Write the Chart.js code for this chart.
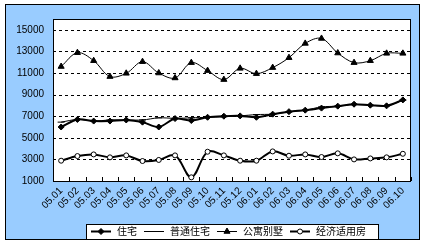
<!DOCTYPE html>
<html><head><meta charset="utf-8">
<script src="https://cdn.jsdelivr.net/npm/chart.js@4/dist/chart.umd.min.js"></script>
<style>html,body{margin:0;padding:0;background:#fff;}#wrap{width:425px;height:247px;position:relative;}</style>
</head><body><div id="wrap"><canvas id="c" width="425" height="247"></canvas></div>
<script>
const categories = ['05.01','05.02','05.03','05.04','05.05','05.06','05.07','05.08','05.09','05.10','05.11','05.12','06.01','06.02','06.03','06.04','06.05','06.06','06.07','06.08','06.09','06.10'];
const seriesNames = ['住宅','普通住宅','公寓别墅','经济适用房'];
const zhuzhai = [6000,6700,6550,6550,6650,6450,6000,6780,6600,6900,7000,7030,6900,7190,7420,7560,7750,7930,8110,8020,7960,8510];
const putongZhuzhai = [6450,6700,6550,6650,6650,6650,6850,6800,6850,6900,6950,7030,7150,7190,7400,7560,7860,7930,8080,8020,7950,8480];
const gongyuBieshu = [11600,12880,12140,10670,10970,12050,11000,10540,11960,11220,10390,11430,10940,11500,12420,13740,14200,12850,11960,12140,12820,12820];
const jingjiShiyong = [2880,3310,3460,3190,3370,2850,2950,3370,1340,3710,3370,2880,2880,3740,3340,3460,3220,3560,3000,3090,3190,3520];
const yTickValues = [1000,3000,5000,7000,9000,11000,13000,15000];
const yMin = 1000, yMax = 16000;

const cjkFont = '10px "Noto Sans CJK SC", sans-serif';

const frame = {
  id:'frame',
  beforeDraw(chart){
    const ctx = chart.ctx, a = chart.chartArea;
    ctx.save();
    ctx.fillStyle = '#fff'; ctx.fillRect(0,0,chart.width,chart.height);
    ctx.fillStyle = '#99CCFF'; ctx.fillRect(5,4,415,236);
    ctx.strokeStyle = '#000'; ctx.lineWidth = 1; ctx.strokeRect(5.5,4.5,414,235);
    ctx.fillStyle = '#fff'; ctx.fillRect(a.left,a.top,a.right-a.left,a.bottom-a.top);
    ctx.restore();
  },
  beforeDatasetsDraw(chart){
    const ctx = chart.ctx, a = chart.chartArea, ys = chart.scales.y;
    ctx.save();
    ctx.strokeStyle = '#000'; ctx.lineWidth = 1; ctx.setLineDash([3,3]);
    ctx.beginPath();
    yTickValues.forEach(v => {
      if (v <= yMin) return;
      const y = Math.round(ys.getPixelForValue(v)) + 0.5;
      ctx.moveTo(a.left, y); ctx.lineTo(a.right, y);
    });
    ctx.stroke();
    ctx.restore();
  },
  afterDatasetsDraw(chart){
    const ctx = chart.ctx, a = chart.chartArea, xs = chart.scales.x;
    ctx.save();
    ctx.strokeStyle = '#000'; ctx.lineWidth = 1;
    ctx.strokeRect(Math.round(a.left)+0.5, Math.round(a.top)+0.5, Math.round(a.right-a.left)-1, Math.round(a.bottom-a.top));
    const step = xs.getPixelForValue(1) - xs.getPixelForValue(0);
    ctx.beginPath();
    for (let i = 0; i <= categories.length; i++) {
      const x = Math.round(xs.getPixelForValue(i) - step/2) + 0.5;
      ctx.moveTo(x, a.bottom); ctx.lineTo(x, a.bottom - 4);
    }
    ctx.stroke();
    // legend
    const ly = 231;
    ctx.fillStyle = '#fff'; ctx.fillRect(86,224,292,15);
    ctx.strokeRect(86.5,224.5,292,15);
    let x = 91;
    ctx.font = cjkFont; ctx.textBaseline = 'middle'; ctx.textAlign = 'left';
    chart.data.datasets.forEach(ds => {
      ctx.strokeStyle = '#000'; ctx.lineWidth = ds.borderWidth;
      ctx.beginPath(); ctx.moveTo(x, ly+0.5); ctx.lineTo(x+20, ly+0.5); ctx.stroke();
      ctx.save();
      ctx.fillStyle = ds.pointBackgroundColor; ctx.strokeStyle = ds.pointBorderColor; ctx.lineWidth = 1;
      Chart.helpers.drawPoint(ctx, {pointStyle: ds.pointStyle, radius: ds.pointRadius, rotation: 0, borderWidth: 1}, x+10, ly+0.5);
      ctx.restore();
      ctx.fillStyle = '#000';
      ctx.fillText(ds.label, x+26, ly);
      x += 26 + ctx.measureText(ds.label).width + 7;
    });
    ctx.restore();
  }
};

const mk = (label, data, width, style, radius, fill, tension) => ({
  label, data, borderColor:'#000', borderWidth: width, pointStyle: style, pointRadius: radius,
  pointBackgroundColor: fill, pointBorderColor:'#000', pointBorderWidth:1, tension, fill:false
});

new Chart(document.getElementById('c'), {
  type:'line',
  data:{ labels: categories, datasets:[
    mk(seriesNames[0], zhuzhai, 2, 'rectRot', 3, '#000', 0.3),
    mk(seriesNames[1], putongZhuzhai, 1, 'line', 3.5, '#000', 0.3),
    mk(seriesNames[2], gongyuBieshu, 1, 'triangle', 3.5, '#000', 0.35),
    mk(seriesNames[3], jingjiShiyong, 2, 'circle', 2.5, '#fff', 0.35)
  ]},
  options:{
    responsive:false, animation:false, devicePixelRatio:1,
    layout:{ padding:{ left:0, top:19, right:14, bottom:0 } },
    plugins:{ legend:{display:false}, tooltip:{enabled:false} },
    scales:{
      x:{ type:'category', offset:true,
        grid:{ display:false, drawTicks:false },
        border:{ display:false },
        ticks:{ autoSkip:false, minRotation:45, maxRotation:45, padding:4, color:'#000', font:{family:'"Liberation Sans", Arial, sans-serif', size:10} },
        afterFit(s){ s.height = 66; }
      },
      y:{ min:yMin, max:yMax,
        afterBuildTicks(s){ s.ticks = yTickValues.map(v => ({value:v})); },
        grid:{ display:false, drawTicks:false },
        border:{ display:false },
        ticks:{ padding:9, color:'#000', font:{family:'"Liberation Sans", Arial, sans-serif', size:10}, callback:(v)=>String(v) },
        afterFit(s){ s.width = 53; }
      }
    }
  },
  plugins:[frame]
});
</script></body></html>
